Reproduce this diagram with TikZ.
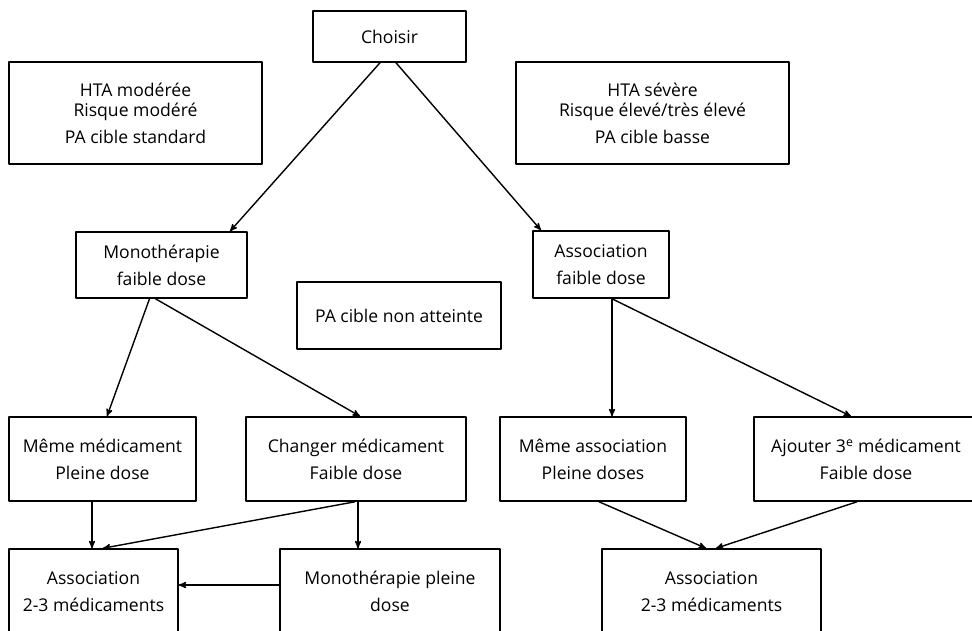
\documentclass[tikz,border=0pt]{standalone}
\usepackage{fontspec}
\setmainfont{Open Sans}
\usetikzlibrary{arrows,positioning,calc}
\newcommand \mybox[6]
{
\node[box, minimum width={(#4-#2)*0.03cm}, minimum height={(#5-#3)*0.03cm}] (#1) at ({(#2+#4)/2},{(#3+#5)/2}) {#6};
}
\tikzset{
  box/.style={draw, line width=1.3pt, align=center, inner sep=0pt, font=\fontsize{15}{23}\selectfont},
  link/.style={->, line width=1.2pt, >=stealth'}
}

\begin{document}
\begin{tikzpicture}[x=0.03cm, y=-0.03cm, line join=round]
\useasboundingbox (0,0) rectangle (972,630);
\clip (0,0) rectangle (972,630);
\mybox{choisir}{313}{11}{466}{62}{Choisir}
\mybox{htamod}{9}{62}{262}{164}{HTA modérée\\[-6pt]Risque modéré\\PA cible standard}
\mybox{htasev}{516}{62}{789}{164}{HTA sévère\\[-6pt]Risque élevé/très élevé\\PA cible basse}
\mybox{monofd}{76}{232}{247}{298}{Monothérapie\\faible dose}
\mybox{assocfd}{533}{231}{669}{298}{Association\\faible dose}
\mybox{pacible}{297}{282}{501}{349}{PA cible non atteinte}
\mybox{memmed}{9}{417}{196}{501}{Même médicament\\Pleine dose}
\mybox{changer}{246}{417}{466}{501}{Changer médicament\\Faible dose}
\mybox{memassoc}{500}{417}{686}{501}{Même association\\Pleine doses}
\mybox{ajouter}{754}{417}{978}{501}{Ajouter 3\textsuperscript{e} médicament\\Faible dose}
\mybox{assocL}{9}{549}{178}{634}{Association\\2-3 médicaments}
\mybox{monopl}{280}{549}{500}{634}{Monothérapie pleine\\dose}
\mybox{assocR}{602}{549}{821}{634}{Association\\2-3 médicaments}
% choisir
\draw[link] ($(choisir.south)+(-9.5,0)$) -- ($(monofd.north)+(68.5,0)$);
\draw[link] ($(choisir.south)+(6.5,0)$) -- ($(assocfd.north)+(-60,0)$);
% monotherapie
\draw[link] ($(monofd.south)+(-12,0)$) -- ($(memmed.north)+(4.5,0)$);
\draw[link] ($(monofd.south)+(-6,0)$) -- ($(changer.north)+(4,0)$);
% association
\draw[link] ($(assocfd.south)+(11,0)$) -- ($(memassoc.north)+(19,0)$);
\draw[link] ($(assocfd.south)+(11,0)$) -- ($(ajouter.north)+(-15,0)$);
% dernier niveau
\draw[link] ($(memmed.south)+(-10.5,0)$) -- ($(assocL.north)+(-1.5,0)$);
\draw[link] ($(changer.south)+(-1,0)$) -- ($(assocL.north)+(9.5,0)$);
\draw[link] ($(changer.south)+(2,0)$) -- ($(monopl.north)+(-32,0)$);
\draw[link] ($(monopl.west)+(0,-6.5)$) -- ($(assocL.east)+(0,-6.5)$);
\draw[link] ($(memassoc.south)+(6,0)$) -- ($(assocR.north)+(-5.5,0)$);
\draw[link] ($(ajouter.south)+(-9,0)$) -- ($(assocR.north)+(4.5,0)$);
\end{tikzpicture}
\end{document}
